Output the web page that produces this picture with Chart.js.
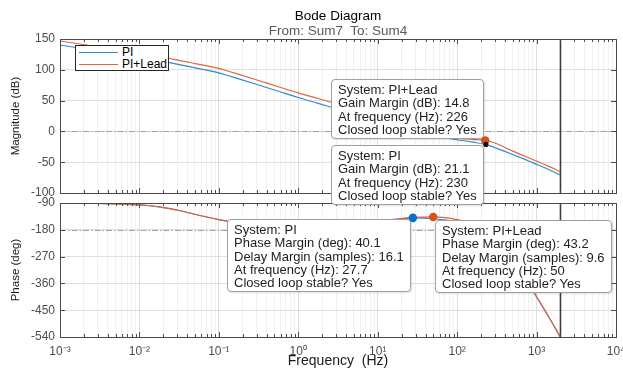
<!DOCTYPE html>
<html>
<head>
<meta charset="utf-8">
<title>Bode Diagram</title>
<script src="https://cdn.jsdelivr.net/npm/chart.js@4.4.1/dist/chart.umd.min.js"></script>
<style>
  html, body { margin:0; padding:0; background:#ffffff; }
  #fig { position:relative; width:623px; height:370px; overflow:hidden; background:#fff;
         font-family:"Liberation Sans", Arial, Helvetica, sans-serif; }
  canvas { position:absolute; left:0; }
  #cTop { top:0; z-index:2; }
  #cBot { top:195px; z-index:1; }
  .ttl { position:absolute; z-index:3; white-space:nowrap; transform:translateX(-50%); line-height:16px; }
  #title { font-size:13.5px; color:#000; }
  #subtitle { font-size:13.5px; color:#5a5a5a; }
  .tip { position:absolute; z-index:6; background:#fff; border:1px solid #a0a0a0; border-radius:4px;
         padding:3px 6px 2px 6px; font-size:13px; line-height:13.3px; color:#1e1e1e; white-space:nowrap;
         box-shadow:1px 1px 2px rgba(0,0,0,0.12); }
  #legend { position:absolute; z-index:5; background:#fff; border:1px solid #262626; padding:0 1px 0 3px;
            font-size:12px; line-height:12px; color:#000; }
  #legend .row { display:flex; align-items:center; height:12px; white-space:nowrap; }
  #legend .sw { display:inline-block; width:39px; height:0; margin-right:4px; }
</style>
</head>
<body>
<div id="fig">
  <canvas id="cTop" width="623" height="215" style="width:623px;height:215px"></canvas>
  <canvas id="cBot" width="623" height="175" style="width:623px;height:175px"></canvas>
  <div id="title" class="ttl">Bode Diagram</div>
  <div id="subtitle" class="ttl">From: Sum7&nbsp; To: Sum4</div>
  <div id="legend"></div>
</div>
<script>
// ---------------- data ----------------
const freqHz   = [0.001, 0.00316, 0.01, 0.0178, 0.0316, 0.0562, 0.1, 0.126, 0.178, 0.316, 0.562, 1,
                  1.78, 3.16, 5.62, 10, 17.8, 27.7, 50, 100, 158, 226, 316, 501, 700, 923, 1380, 2000];
const magPI    = [140.3, 130.3, 120.3, 114.8, 108.5, 102, 95, 91.2, 85.3, 75.3, 65.2, 55,
                  45.5, 36, 26.5, 17, 7.5, 0, -7, -13.5, -17.5, -21.1, -27.5, -37.5, -45, -51.5, -61, -70.8];
const magLead  = [146.8, 137, 127, 121.5, 115.3, 108.8, 102.3, 98.5, 92.6, 82.6, 72.5, 62.5,
                  53.3, 44, 35, 25.5, 16, 9, 0, -10.5, -13, -14.8, -20, -32, -40, -46.4, -56, -65.4];
const phasePI  = [-89.5, -91.5, -96.5, -103, -115, -131, -146, -151, -157, -164, -168, -170,
                  -170, -168, -163, -156, -147, -139.9, -143, -153, -166, -180, -213, -282, -337, -390, -467, -541];
const phaseLead= [-89.5, -91.5, -96.5, -103, -115, -131, -146, -151, -157, -164, -168, -170,
                  -169.5, -167, -161, -153, -143.5, -138.5, -136.8, -146, -162, -180, -212, -280, -335, -389, -466, -540];

const seriesNames  = ['PI', 'PI+Lead'];
const magTicks     = [-100, -50, 0, 50, 100, 150];
const phaseTicks   = [-540, -450, -360, -270, -180, -90];
const decadeLabels = ['10⁻³', '10⁻²', '10⁻¹', '10⁰', '10¹', '10²', '10³', '10⁴'];
const nyquistHz    = 2000;

// stability margins (datatips), index 0 = PI, 1 = PI+Lead
const gmDb      = [21.1, 14.8];
const gmFreqHz  = [230, 226];
const pmDeg     = [40.1, 43.2];
const dmSamples = [16.1, 9.6];
const pmFreqHz  = [27.7, 50];

// ---------------- styling ----------------
const COL_PI = '#2a8bd1', COL_LEAD = '#e2643c';
const DOT_PI = '#0a72c4', DOT_LEAD = '#d95319';
Chart.defaults.font.family = '"Liberation Sans", Arial, Helvetica, sans-serif';

function isDecade(v) { const l = Math.log10(v); return Math.abs(l - Math.round(l)) < 1e-6; }

const decor = {
  id: 'decor',
  beforeDatasetsDraw(chart, args, o) {
    const { ctx, chartArea: a, scales } = chart;
    const y = Math.round(scales.y.getPixelForValue(o.refLine)) + 0.5;
    ctx.save();
    ctx.beginPath();
    ctx.setLineDash([6, 2, 1.5, 2]);
    ctx.lineWidth = 1; ctx.strokeStyle = '#a3a3a3';
    ctx.moveTo(a.left, y); ctx.lineTo(a.right, y); ctx.stroke();
    ctx.restore();
  },
  afterDatasetsDraw(chart, args, o) {
    const { ctx, chartArea: a, scales: { x, y } } = chart;
    ctx.save();
    // Nyquist line
    const xn = x.getPixelForValue(o.nyquist);
    ctx.beginPath(); ctx.strokeStyle = '#3c3c3c'; ctx.lineWidth = 1.6;
    ctx.moveTo(xn, a.top); ctx.lineTo(xn, a.bottom); ctx.stroke();
    // inward ticks
    ctx.strokeStyle = '#4d4d4d'; ctx.lineWidth = 1;
    ctx.beginPath();
    x.ticks.forEach(t => {
      const px = Math.round(x.getPixelForValue(t.value)) + 0.5;
      const L = isDecade(t.value) ? 5 : 3;
      ctx.moveTo(px, a.top); ctx.lineTo(px, a.top + L);
      ctx.moveTo(px, a.bottom); ctx.lineTo(px, a.bottom - L);
    });
    y.ticks.forEach(t => {
      const py = Math.round(y.getPixelForValue(t.value)) + 0.5;
      ctx.moveTo(a.left, py); ctx.lineTo(a.left + 5, py);
      ctx.moveTo(a.right, py); ctx.lineTo(a.right - 5, py);
    });
    ctx.stroke();
    // frame
    ctx.strokeStyle = '#4a4a4a';
    ctx.strokeRect(Math.round(a.left) + 0.5, Math.round(a.top) + 0.5,
                   Math.round(a.right - a.left), Math.round(a.bottom - a.top));
    ctx.restore();
  }
};

function xAxis(showLabels, axisHeight) {
  return {
    type: 'logarithmic', min: 1e-3, max: 1e4,
    afterBuildTicks: s => {
      const t = [];
      decadeLabels.forEach((lab, i) => {
        const base = Math.pow(10, i - 3);
        if (i < decadeLabels.length - 1) { for (let m = 1; m < 10; m++) t.push({ value: m * base }); }
        else t.push({ value: base });
      });
      s.ticks = t;
    },
    grid: { drawTicks: false, lineWidth: 1,
            color: c => (c.tick && isDecade(c.tick.value)) ? '#dedede' : '#f1f1f1' },
    border: { display: false },
    ticks: { display: showLabels, autoSkip: false, maxRotation: 0, minRotation: 0, padding: 7,
             color: '#4d4d4d', font: { size: 12 },
             callback: v => isDecade(v) ? decadeLabels[Math.round(Math.log10(v)) + 3] : '' },
    title: { display: showLabels, text: 'Frequency  (Hz)', color: '#1a1a1a', font: { size: 14 },
             padding: { top: 0, bottom: 0 } },
    afterFit: s => { s.height = axisHeight; s.paddingLeft = 0; s.paddingRight = 0; }
  };
}

function yAxis(min, max, ticks, title) {
  return {
    min, max,
    afterBuildTicks: s => { s.ticks = ticks.map(v => ({ value: v })); },
    grid: { color: '#e0e0e0', drawTicks: false },
    border: { display: false },
    ticks: { color: '#4d4d4d', font: { size: 12 }, padding: 5 },
    title: { display: true, text: title, color: '#1a1a1a', font: { size: 11.5 }, padding: { top: 9, bottom: 0 } },
    afterFit: s => { s.width = 60; s.paddingTop = 0; s.paddingBottom = 0; }
  };
}

function lineSet(label, ys, color, order) {
  return { label, data: freqHz.map((f, i) => ({ x: f, y: ys[i] })), borderColor: color, borderWidth: 1.15,
           pointRadius: 0, fill: false, cubicInterpolationMode: 'monotone', order };
}
function dotSet(label, x, y, color, r, order) {
  return { label, data: [{ x, y }], showLine: false, pointRadius: r, pointHoverRadius: r,
           pointBackgroundColor: color, pointBorderColor: color, pointBorderWidth: 0, order };
}
function baseOptions(padTop, xax, yax, refLine) {
  return {
    responsive: false, animation: false, devicePixelRatio: 1, parsing: true,
    layout: { padding: { left: 0, right: 7, top: padTop, bottom: 0 } },
    plugins: { legend: { display: false }, tooltip: { enabled: false }, decor: { refLine, nyquist: nyquistHz } },
    scales: { x: xax, y: yax }
  };
}

const topChart = new Chart(document.getElementById('cTop'), {
  type: 'line',
  data: { datasets: [
    dotSet('PI GM', gmFreqHz[0], -gmDb[0], '#111111', 2.6, 0),
    dotSet('PI+Lead GM', gmFreqHz[1], -gmDb[1], DOT_LEAD, 4.3, 1),
    lineSet(seriesNames[1], magLead, COL_LEAD, 2),
    lineSet(seriesNames[0], magPI, COL_PI, 3)
  ] },
  options: baseOptions(39, xAxis(false, 22), yAxis(-100, 150, magTicks, 'Magnitude (dB)'), 0),
  plugins: [decor]
});

const botChart = new Chart(document.getElementById('cBot'), {
  type: 'line',
  data: { datasets: [
    dotSet('PI+Lead PM', pmFreqHz[1], pmDeg[1] - 180, DOT_LEAD, 4.3, 0),
    dotSet('PI PM', pmFreqHz[0], pmDeg[0] - 180, DOT_PI, 4.3, 1),
    lineSet(seriesNames[1], phaseLead, COL_LEAD, 2),
    lineSet(seriesNames[0], phasePI, COL_PI, 3)
  ] },
  options: baseOptions(8, xAxis(true, 33), yAxis(-540, -90, phaseTicks, 'Phase (deg)'), -180),
  plugins: [decor]
});

// ---------------- overlays: title, legend, datatips ----------------
const fig = document.getElementById('fig');
const BOT_OFFSET = 195;
const ca = topChart.chartArea;
const cx = (ca.left + ca.right) / 2;
const tEl = document.getElementById('title'), sEl = document.getElementById('subtitle');
tEl.style.left = cx + 'px'; tEl.style.top = (ca.top - 31) + 'px';
sEl.style.left = cx + 'px'; sEl.style.top = (ca.top - 16) + 'px';

const lg = document.getElementById('legend');
[[seriesNames[0], COL_PI], [seriesNames[1], COL_LEAD]].forEach(([name, col]) => {
  const r = document.createElement('div'); r.className = 'row';
  const sw = document.createElement('span'); sw.className = 'sw'; sw.style.borderTop = '1.2px solid ' + col;
  const tx = document.createElement('span'); tx.textContent = name;
  r.appendChild(sw); r.appendChild(tx); lg.appendChild(r);
});
lg.style.left = (ca.left + 15) + 'px'; lg.style.top = (ca.top + 6) + 'px';

function tip(lines, px, py, anchor, dx, dy) {
  const d = document.createElement('div'); d.className = 'tip';
  lines.forEach((l, i) => { if (i) d.appendChild(document.createElement('br')); d.appendChild(document.createTextNode(l)); });
  fig.appendChild(d);
  const w = d.offsetWidth, h = d.offsetHeight;
  let left, top;
  if (anchor === 'br') { left = px - dx - w; top = py - dy - h; }
  else if (anchor === 'tr') { left = px - dx - w; top = py + dy; }
  else { left = px + dx; top = py + dy; }
  d.style.left = Math.round(left) + 'px'; d.style.top = Math.round(top) + 'px';
}

const tx = topChart.scales.x, ty = topChart.scales.y;
const bx = botChart.scales.x, by = botChart.scales.y;

// Gain margin tips
tip(['System: ' + seriesNames[1], 'Gain Margin (dB): ' + gmDb[1], 'At frequency (Hz): ' + gmFreqHz[1], 'Closed loop stable? Yes'],
    tx.getPixelForValue(gmFreqHz[1]), ty.getPixelForValue(-gmDb[1]), 'br', 1, 2);
tip(['System: ' + seriesNames[0], 'Gain Margin (dB): ' + gmDb[0], 'At frequency (Hz): ' + gmFreqHz[0], 'Closed loop stable? Yes'],
    tx.getPixelForValue(gmFreqHz[0]), ty.getPixelForValue(-gmDb[0]), 'tr', 2, 1);
// Phase margin tips
tip(['System: ' + seriesNames[0], 'Phase Margin (deg): ' + pmDeg[0], 'Delay Margin (samples): ' + dmSamples[0],
     'At frequency (Hz): ' + pmFreqHz[0], 'Closed loop stable? Yes'],
    bx.getPixelForValue(pmFreqHz[0]), by.getPixelForValue(pmDeg[0] - 180) + BOT_OFFSET, 'tr', 1.5, 1.5);
tip(['System: ' + seriesNames[1], 'Phase Margin (deg): ' + pmDeg[1], 'Delay Margin (samples): ' + dmSamples[1],
     'At frequency (Hz): ' + pmFreqHz[1], 'Closed loop stable? Yes'],
    bx.getPixelForValue(pmFreqHz[1]), by.getPixelForValue(pmDeg[1] - 180) + BOT_OFFSET, 'tl', 2, 3);
</script>
</body>
</html>
